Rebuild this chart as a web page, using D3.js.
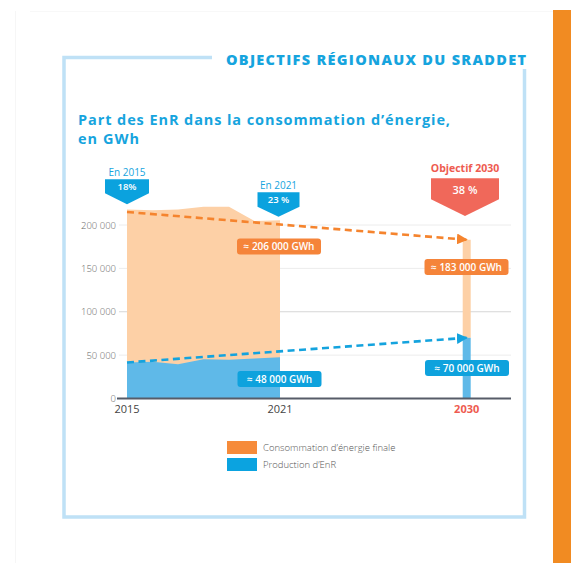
<!DOCTYPE html>
<html><head><meta charset="utf-8">
<script src="https://cdn.jsdelivr.net/npm/d3@7"></script>
<style>
html,body{margin:0;padding:0;background:#fff;}
svg{display:block;font-family:"Open Sans",sans-serif;}
</style></head>
<body>
<script>
// ---- data ----
const years = [2015, 2016, 2017, 2018, 2019, 2020, 2021];
const consommation = [218000, 217000, 218000, 221000, 221000, 204500, 205500];
const productionEnR = [41500, 42500, 39500, 45300, 44600, 46000, 47600];
const targetYear = 2030;
const targetConso = 183000;
const targetEnR = 70000;
const trendConso = [[2015, 215000], [2030, 183000]];
const trendEnR = [[2015, 41500], [2030, 70000]];
const yTicks = [0, 50000, 100000, 150000, 200000];
const xTickYears = [2015, 2021, 2030];
const shares = [{year: 2015, top: "En 2015", pct: "18%"}, {year: 2021, top: "En 2021", pct: "23 %"}, {year: 2030, top: "Objectif 2030", pct: "38 %"}];
const valueLabels = [
  {text: "≈ 206 000 GWh", kind: "conso", year: 2021, value: 206000},
  {text: "≈ 183 000 GWh", kind: "conso", year: 2030, value: 183000},
  {text: "≈ 48 000 GWh", kind: "enr", year: 2021, value: 48000},
  {text: "≈ 70 000 GWh", kind: "enr", year: 2030, value: 70000}
];
const legendItems = ["Consommation d’énergie finale", "Production d’EnR"];

const W = 571, H = 563;
const svg = d3.select("body").append("svg").attr("width", W).attr("height", H);

const BLUE = "#14a3de", ORANGE = "#f5842e", RED = "#f0685a";

// faint outer page frame
svg.append("line").attr("x1", 15.5).attr("x2", 15.5).attr("y1", 11).attr("y2", H).attr("stroke", "#f6f6f6");
svg.append("line").attr("x1", 30).attr("x2", 553).attr("y1", 11.5).attr("y2", 11.5).attr("stroke", "#f8f8f8");

// orange side strip
svg.append("rect").attr("x", 553).attr("y", 10).attr("width", 18).attr("height", H - 10).attr("fill", "#f18b22");

// frame
const FR = "#bfe1f6";
svg.append("path")
  .attr("d", "M212,57.5 H64 V517 H524.5 V69")
  .attr("fill", "none").attr("stroke", FR).attr("stroke-width", 3.5);

// titles
svg.append("text").attr("x", 226).attr("y", 65).attr("fill", "#16a4de")
  .attr("font-size", 14.5).attr("font-weight", 800).attr("textLength", 300).attr("lengthAdjust", "spacing")
  .text("OBJECTIFS RÉGIONAUX DU SRADDET");
svg.append("text").attr("x", 78).attr("y", 125).attr("fill", "#16a4de")
  .attr("font-size", 14.5).attr("font-weight", 700).attr("textLength", 372).attr("lengthAdjust", "spacing")
  .text("Part des EnR dans la consommation d’énergie,");
svg.append("text").attr("x", 78).attr("y", 144).attr("fill", "#16a4de")
  .attr("font-size", 14.5).attr("font-weight", 700).attr("textLength", 61).attr("lengthAdjust", "spacing")
  .text("en GWh");

// scales
const x = d3.scaleLinear().domain([2015, 2021, 2030]).range([127, 280, 466.7]);
const y = d3.scaleLinear().domain([0, 200000]).range([398.5, 225]);

// grid
svg.append("g").selectAll("line").data(yTicks.filter(d => d > 0)).join("line")
  .attr("x1", 119).attr("x2", 511)
  .attr("y1", d => y(d)).attr("y2", d => y(d))
  .attr("stroke", d => d === 100000 ? "#d6d6d6" : "#ececec").attr("stroke-width", 1);

// y axis labels
const yAxis = d3.axisLeft(y).tickValues(yTicks).tickSize(0).tickPadding(0)
  .tickFormat(d => d3.format(",")(d).replace(/,/g, " "));
svg.append("g").attr("transform", "translate(116,0)").call(yAxis)
  .call(s => s.select(".domain").remove())
  .call(s => s.selectAll("text").attr("fill", "#666").attr("font-size", 9.5).attr("font-family", "Open Sans").attr("font-weight", 300));

// areas
const rows = years.map((yr, i) => ({yr, c: consommation[i], p: productionEnR[i]}));
svg.append("path").datum(rows)
  .attr("d", d3.area().x(d => x(d.yr)).y0(y(0)).y1(d => y(d.c)))
  .attr("fill", "#fdd0a6");
svg.append("path").datum(rows)
  .attr("d", d3.area().x(d => x(d.yr)).y0(y(0)).y1(d => y(d.p)))
  .attr("fill", "#5fb9e8");

// 2030 bars
const bw = 8;
svg.append("rect").attr("x", x(targetYear) - bw / 2).attr("width", bw)
  .attr("y", y(targetConso)).attr("height", y(targetEnR) - y(targetConso)).attr("fill", "#fdd0a6");
svg.append("rect").attr("x", x(targetYear) - bw / 2).attr("width", bw)
  .attr("y", y(targetEnR)).attr("height", y(0) - y(targetEnR)).attr("fill", "#5fb9e8");

// x axis line
svg.append("line").attr("x1", 117).attr("x2", 511).attr("y1", y(0)).attr("y2", y(0))
  .attr("stroke", "#575c68").attr("stroke-width", 2);

// x labels
svg.selectAll("text.xl").data(xTickYears).join("text").attr("class", "xl")
  .attr("x", d => x(d)).attr("y", 413).attr("text-anchor", "middle")
  .attr("font-size", 11).attr("fill", d => d === 2030 ? "#ee5b50" : "#444")
  .attr("font-weight", d => d === 2030 ? 700 : 400)
  .text(d => d);

// arrow markers
const defs = svg.append("defs");
[["arrO", ORANGE], ["arrB", BLUE]].forEach(([id, c]) => {
  defs.append("marker").attr("id", id).attr("viewBox", "0 0 10 10").attr("refX", 9).attr("refY", 5)
    .attr("markerWidth", 4.2).attr("markerHeight", 4.2).attr("orient", "auto").attr("markerUnits", "strokeWidth")
    .append("path").attr("d", "M0,0 L10,5 L0,10 z").attr("fill", c);
});
const line = d3.line().x(d => x(d[0])).y(d => y(d[1]));
svg.append("path").attr("d", line(trendConso)).attr("fill", "none").attr("stroke", ORANGE)
  .attr("stroke-width", 2.6).attr("stroke-dasharray", "7,4.5").attr("marker-end", "url(#arrO)");
svg.append("path").attr("d", line(trendEnR)).attr("fill", "none").attr("stroke", BLUE)
  .attr("stroke-width", 2.6).attr("stroke-dasharray", "7,4.5").attr("marker-end", "url(#arrB)");

// value labels
const labelPos = {
  "2021conso": [279, 246.5], "2030conso": [466.5, 267],
  "2021enr": [279.5, 379], "2030enr": [467, 368]
};
valueLabels.forEach(l => {
  const [cx, cy] = labelPos[l.year + l.kind];
  const gg = svg.append("g").attr("transform", `translate(${cx},${cy})`);
  gg.append("rect").attr("x", -42).attr("y", -8).attr("width", 84).attr("height", 16).attr("rx", 3)
    .attr("fill", l.kind === "conso" ? "#f5843a" : "#0ea2dd");
  gg.append("text").attr("text-anchor", "middle").attr("dy", "0.36em").attr("fill", "#fff")
    .attr("font-size", 10).attr("font-weight", 600).text(l.text);
});

// share callouts
const callouts = {
  2015: {w: 44, top: 179.3, rb: 193.3, tip: 204.3, ty: 176, py: 190, col: "#0ba2de", tc: "#16a4de", fs: 10, pf: 9.5, bold: 400},
  2021: {w: 42, top: 192.3, rb: 206.7, tip: 216.7, ty: 188.5, py: 203, col: "#0ba2de", tc: "#16a4de", fs: 10, pf: 9.5, bold: 400},
  2030: {w: 68, top: 178.3, rb: 199.3, tip: 216, ty: 171.5, py: 194, col: RED, tc: "#ee5b50", fs: 10.5, pf: 11, bold: 700}
};
shares.forEach(s => {
  const c = callouts[s.year];
  const cx = s.year === 2030 ? 465 : (s.year === 2021 ? 278.5 : x(s.year));
  svg.append("path")
    .attr("d", `M${cx - c.w / 2},${c.top} H${cx + c.w / 2} V${c.rb} L${cx},${c.tip} L${cx - c.w / 2},${c.rb} Z`)
    .attr("fill", c.col);
  svg.append("text").attr("x", cx).attr("y", c.ty).attr("text-anchor", "middle")
    .attr("fill", c.tc).attr("font-size", c.fs).attr("font-weight", c.bold).text(s.top);
  svg.append("text").attr("x", cx).attr("y", c.py).attr("text-anchor", "middle")
    .attr("fill", "#fff").attr("font-size", c.pf).attr("font-weight", 600).text(s.pct);
});

// legend
const legCols = ["#f68b3a", "#0ba3e0"];
legendItems.forEach((t, i) => {
  svg.append("rect").attr("x", 227).attr("y", 441 + i * 17).attr("width", 30).attr("height", 13).attr("fill", legCols[i]);
  svg.append("text").attr("x", 263).attr("y", 451 + i * 17).attr("fill", "#555").attr("font-size", 9.5)
    .attr("font-weight", 300).text(t);
});
</script>
</body></html>
